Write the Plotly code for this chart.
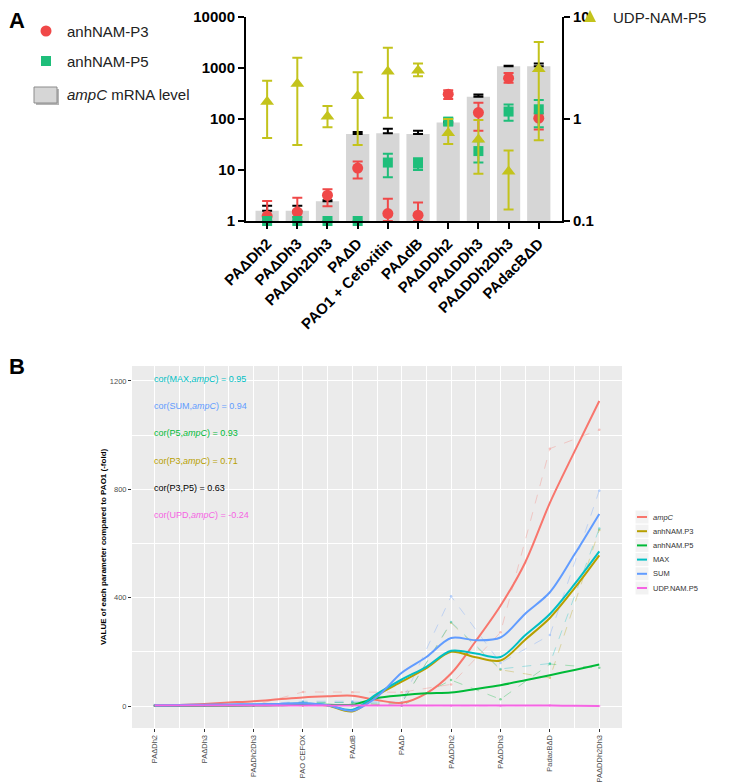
import plotly.graph_objects as go

# ---------------- Panel A data ----------------
cats_a = ["PAΔDh2", "PAΔDh3", "PAΔDh2Dh3", "PAΔD", "PAO1 + Cefoxitin", "PAΔdB",
          "PAΔDDh2", "PAΔDDh3", "PAΔDDh2Dh3", "PAdacBΔD"]
ampc_mrna = [1.58, 1.58, 2.45, 50.8, 52.5, 50.8, 85.6, 272, 1081, 1081]
ampc_hi = [1.98, 1.98, 2.55, 55.6, 64.7, 59, 88, 302, 1110, 1230]
p3_val = [1.25, 1.5, 3.2, 10.9, 1.4, 1.3, 307, 134, 631, 104]
p3_hi = [2.47, 2.87, 4.2, 14.6, 2.74, 2.3, 367, 209, 794, 128]
p3_lo = [1.0, 1.2, 1.95, 6.8, 1.0, 1.0, 246, 59, 514, 62]
p5_val = [1, 1, 1, 1, 14, 13.4, 89, 23.5, 140, 155]
p5_hi = [1, 1, 1, 1, 20.9, 17, 104, 36.7, 193, 235]
p5_lo = [1, 1, 1, 1, 7.2, 10, 77, 14, 92, 69]
udp_val = [1.48, 2.22, 1.06, 1.68, 2.92, 2.99, 0.73, 0.63, 0.306, 3.1]
udp_hi = [2.37, 3.98, 1.34, 2.88, 5.0, 3.5, 1.0, 0.98, 0.49, 5.7]
udp_lo = [0.65, 0.555, 0.83, 0.555, 1.03, 2.63, 0.57, 0.29, 0.13, 0.62]
left_ticks = [1, 10, 100, 1000, 10000]
right_ticks = [0.1, 1, 10]
a_names = ["anhNAM-P3", "anhNAM-P5", "<i>ampC</i> mRNA level", "UDP-NAM-P5"]

# ---------------- Panel B data ----------------
cats_b = ["PAΔDh2", "PAΔDh3", "PAΔDh2Dh3", "PAO CEFOX", "PAΔdB", "PAΔD",
          "PAΔDDh2", "PAΔDDh3", "PadacBΔD", "PAΔDDh2Dh3"]
raw_ampc = [1.6, 1.6, 2.4, 52, 51, 51, 80, 272, 950, 1020]
raw_p3 = [1.2, 1.5, 3.2, 1.4, 1.3, 10.9, 307, 134, 104, 650]
raw_p5 = [1, 1, 1, 14, 13.4, 1, 96, 25, 155, 141]
raw_max = [1.5, 2.2, 3.2, 14, 13.4, 10.9, 310, 137, 157, 655]
raw_sum = [3.7, 4.7, 5.3, 18, 17.7, 13.6, 405, 159, 262, 795]
raw_udp = [1.5, 2.2, 1.1, 2.9, 3.0, 1.7, 0.7, 0.6, 3.1, 0.3]
smooth_pos = [0, 0.5, 1, 1.5, 2, 2.5, 3, 3.5, 4, 4.5, 5, 5.5, 6, 6.5, 7, 7.5, 8, 8.5, 9]
sm_ampc = [1, 4, 8, 13, 18, 25, 32, 36, 38, 22, 12, 47, 120, 240, 370, 530, 750, 940, 1126]
sm_p3 = [1, 1, 2, 3, 4, 5, 8, 2, -20, 40, 90, 140, 200, 180, 168, 245, 325, 435, 556]
sm_p5 = [1, 1, 1, 1, 2, 3, 5, 5, 5, 30, 40, 47, 50, 63, 77, 95, 114, 133, 153]
sm_max = [1, 2, 3, 4, 5, 7, 9, 3, -14, 45, 98, 145, 204, 194, 181, 261, 340, 450, 571]
sm_sum = [3, 4, 5, 6, 7, 8, 10, 3, -17, 34, 123, 181, 251, 243, 253, 341, 420, 560, 709]
sm_udp = [2, 2, 2, 2, 2, 2, 2, 2, 2, 2, 2, 2, 2, 2, 2, 2, 2, 1, 0.5]
cor_labels = ["cor(MAX,<i>ampC</i>) = 0.95", "cor(SUM,<i>ampC</i>) = 0.94",
              "cor(P5,<i>ampC</i>) = 0.93", "cor(P3,<i>ampC</i>) = 0.71",
              "cor(P3,P5) = 0.63", "cor(UPD,<i>ampC</i>) = -0.24"]
b_names = ["<i>ampC</i>", "anhNAM.P3", "anhNAM.P5", "MAX", "SUM", "UDP.NAM.P5"]
b_ytitle = "<b>VALUE of each parameter compared to PAO1 (-fold)</b>"

W, H = 750, 782
OFF = 8  # page body margin: the figure is drawn 8px right and down in the window
def px(x):
    return (x - OFF) / W
def py(y):
    return 1 - (y - OFF) / H

FONT = "Arial, Liberation Sans, sans-serif"
RED = "#F04848"
GREEN = "#1EBE7A"
YEL = "#C3C31C"
BARC = "#D6D6D6"
gg = ["#F8766D", "#B79F00", "#00BA38", "#00BFC4", "#619CFF", "#F564E3"]

fig = go.Figure()

# ---- Panel A ----
fig.add_trace(go.Bar(
    x=cats_a, y=ampc_mrna, marker_color=BARC, width=0.77, name=a_names[2],
    error_y=dict(type="data", symmetric=False,
                 array=[h - v for h, v in zip(ampc_hi, ampc_mrna)],
                 arrayminus=[0] * 10, color="black", thickness=2, width=5),
    xaxis="x", yaxis="y", showlegend=False))
fig.add_trace(go.Scatter(
    x=cats_a, y=p3_val, mode="markers", name=a_names[0],
    marker=dict(symbol="circle", size=11, color=RED),
    error_y=dict(type="data", symmetric=False,
                 array=[h - v for h, v in zip(p3_hi, p3_val)],
                 arrayminus=[v - l for v, l in zip(p3_val, p3_lo)],
                 color=RED, thickness=2, width=5),
    cliponaxis=False, xaxis="x", yaxis="y", showlegend=False))
fig.add_trace(go.Scatter(
    x=cats_a, y=p5_val, mode="markers", name=a_names[1],
    marker=dict(symbol="square", size=10, color=GREEN),
    error_y=dict(type="data", symmetric=False,
                 array=[h - v for h, v in zip(p5_hi, p5_val)],
                 arrayminus=[v - l for v, l in zip(p5_val, p5_lo)],
                 color=GREEN, thickness=2, width=5),
    cliponaxis=False, xaxis="x", yaxis="y", showlegend=False))
fig.add_trace(go.Scatter(
    x=cats_a, y=udp_val, mode="markers", name=a_names[3],
    marker=dict(symbol="triangle-up", size=12, color=YEL),
    error_y=dict(type="data", symmetric=False,
                 array=[h - v for h, v in zip(udp_hi, udp_val)],
                 arrayminus=[v - l for v, l in zip(udp_val, udp_lo)],
                 color=YEL, thickness=2, width=5),
    cliponaxis=False, xaxis="x", yaxis="y2", showlegend=False))

# ---- Panel B ----
for name, raw, col in zip(b_names, [raw_ampc, raw_p3, raw_p5, raw_max, raw_sum, raw_udp], gg):
    fig.add_trace(go.Scatter(
        x=list(range(len(cats_b))), y=raw, mode="lines+markers", showlegend=False,
        line=dict(color=col, width=0.7, dash="dash"), opacity=0.45,
        marker=dict(size=2.5, color=col), xaxis="x3", yaxis="y3", hoverinfo="skip"))
for name, sm, col in zip(b_names, [sm_ampc, sm_p3, sm_p5, sm_max, sm_sum, sm_udp], gg):
    fig.add_trace(go.Scatter(
        x=smooth_pos, y=sm, mode="lines", name=name, showlegend=False,
        line=dict(color=col, width=2, shape="spline", smoothing=0.9),
        xaxis="x3", yaxis="y3"))

shapes = []
annotations = []

def ptxt(text, x, y, size, color, anchor="left", angle=0):
    annotations.append(dict(text=text, xref="paper", yref="paper", x=px(x), y=py(y),
                            xanchor=anchor, yanchor="middle", showarrow=False, textangle=angle,
                            borderpad=0, font=dict(family=FONT, size=size, color=color)))

# Panel A manual legend
shapes.append(dict(type="circle", xref="paper", yref="paper", x0=px(40.5), x1=px(51.5),
                   y0=py(36.5), y1=py(25.5), fillcolor=RED, line=dict(width=0)))
shapes.append(dict(type="rect", xref="paper", yref="paper", x0=px(41), x1=px(51),
                   y0=py(66), y1=py(56), fillcolor=GREEN, line=dict(width=0)))
shapes.append(dict(type="rect", xref="paper", yref="paper", x0=px(36), x1=px(59),
                   y0=py(105), y1=py(89), fillcolor="#B5B5B5", line=dict(width=0)))
shapes.append(dict(type="rect", xref="paper", yref="paper", x0=px(34), x1=px(57),
                   y0=py(103), y1=py(87), fillcolor="#D6D6D6", line=dict(color="#8C8C8C", width=1)))
shapes.append(dict(type="path", xref="paper", yref="paper",
                   path="M {},{} L {},{} L {},{} Z".format(px(584), py(22), px(596), py(22),
                                                           px(590), py(10)),
                   fillcolor=YEL, line=dict(width=0)))
ptxt(a_names[0], 66, 31, 15, "#222222")
ptxt(a_names[1], 66, 61, 15, "#222222")
ptxt(a_names[2], 66, 95, 15, "#222222")
ptxt(a_names[3], 612, 18, 15, "#222222")

# Panel B grey background
shapes.append(dict(type="rect", xref="x3 domain", yref="y3 domain", x0=0, x1=1, y0=0, y1=1,
                   fillcolor="#EBEBEB", line=dict(width=0), layer="below"))

# Panel B manual legend
for i, (name, col) in enumerate(zip(b_names, gg)):
    yc = 517 + 14.2 * i
    shapes.append(dict(type="rect", xref="paper", yref="paper",
                       x0=px(635.5), x1=px(648.5), y0=py(yc - 6.5), y1=py(yc + 6.5),
                       fillcolor="#F2F2F2", line=dict(width=0)))
    shapes.append(dict(type="line", xref="paper", yref="paper",
                       x0=px(637), x1=px(647), y0=py(yc), y1=py(yc),
                       line=dict(color=col, width=2)))
    ptxt(name, 652, yc, 7.5, "#333333")

# correlation annotations
cor_cols = [gg[3], gg[4], gg[2], gg[1], "#000000", gg[5]]
for i, (t, c) in enumerate(zip(cor_labels, cor_cols)):
    ptxt(t, 153, 379 + 27.2 * i, 9, c)

ptxt("<b>A</b>", 8, 20, 22, "black")
ptxt("<b>B</b>", 8, 367, 22, "black")
ptxt(b_ytitle, 103, 547, 8, "black", anchor="center", angle=-90)

axis_a = dict(showline=True, linecolor="black", linewidth=2, ticks="outside", automargin=False,
              ticklen=6, tickwidth=2, tickcolor="black", showgrid=False, zeroline=False,
              ticklabeloverflow="allow",
              tickfont=dict(family=FONT, size=15, color="black", weight="bold"))

fig.update_layout(
    template="none",
    width=W, height=H, margin=dict(l=0, r=0, t=0, b=0, autoexpand=False),
    paper_bgcolor="white", plot_bgcolor="rgba(0,0,0,0)",
    shapes=shapes, annotations=annotations, barmode="overlay", showlegend=False,
    xaxis=dict(domain=[px(246), px(562)], anchor="y", type="category", range=[-0.7, 9.77],
               tickangle=-45, **axis_a),
    yaxis=dict(domain=[py(221), py(17)], anchor="x", type="log", range=[0, 4],
               tickvals=left_ticks, ticktext=[str(v) for v in left_ticks], **axis_a),
    yaxis2=dict(domain=[py(221), py(17)], anchor="x", overlaying="y", side="right",
                type="log", range=[-1, 1], tickvals=right_ticks,
                ticktext=[str(v) for v in right_ticks], **axis_a),
    xaxis3=dict(domain=[px(132), px(622)], anchor="y3", range=[-0.46, 9.46], automargin=False,
                tickmode="array", tickvals=list(range(len(cats_b))), ticktext=cats_b,
                tickangle=-90, ticks="outside", ticklen=3, tickcolor="#333333",
                ticklabeloverflow="allow",
                showline=False, showgrid=True, gridcolor="white", gridwidth=1.1, zeroline=False,
                minor=dict(tickvals=[k + 0.5 for k in range(-1, 10)], showgrid=True,
                           gridcolor="white", gridwidth=0.5, ticks=""),
                tickfont=dict(family=FONT, size=7.5, color="#4D4D4D")),
    yaxis3=dict(domain=[py(728), py(366)], anchor="x3", range=[-81, 1255], automargin=False,
                tickvals=[0, 400, 800, 1200], ticks="outside", ticklen=3, tickcolor="#333333",
                ticklabeloverflow="allow",
                showline=False, showgrid=True, gridcolor="white", gridwidth=1.1, zeroline=False,
                minor=dict(tickvals=[200, 600, 1000], showgrid=True, gridcolor="white",
                           gridwidth=0.5, ticks=""),
                tickfont=dict(family=FONT, size=7.5, color="#4D4D4D")),
)

fig.write_html("out.html")
